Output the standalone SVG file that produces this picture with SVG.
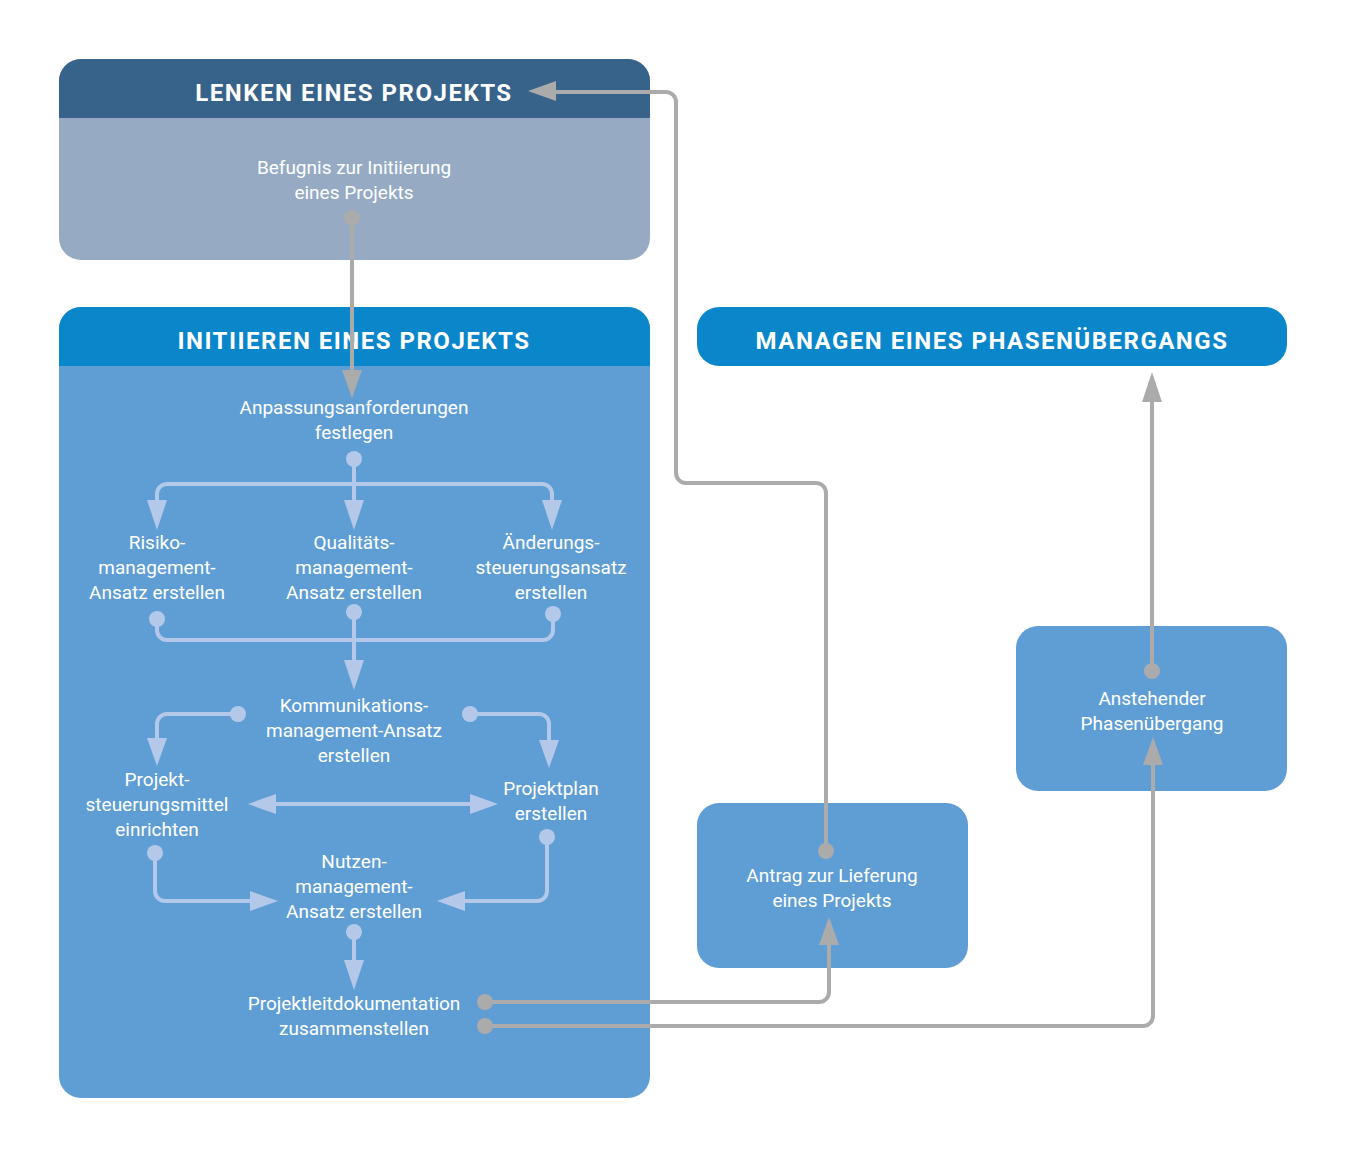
<svg xmlns="http://www.w3.org/2000/svg" width="1346" height="1159" viewBox="0 0 1346 1159">
<style>
.h{font-family:Roboto,"DejaVu Sans",sans-serif;font-weight:bold;font-size:24px;fill:#fff;text-anchor:middle;letter-spacing:1.5px}
.t{font-family:Roboto,"DejaVu Sans",sans-serif;font-size:19px;fill:#fff;text-anchor:middle}
.g{fill:none;stroke:#ababab;stroke-width:4;stroke-linejoin:round}
.l{fill:none;stroke:#b4c8ea;stroke-width:4;stroke-linejoin:round}
.gd{fill:#ababab}.ld{fill:#b4c8ea}
</style>
<rect width="1346" height="1159" fill="#fff"/>
<g id="lenken">
<rect x="59" y="59" width="591" height="201" rx="22" fill="#96aac4"/>
<path d="M59 118 V81 a22 22 0 0 1 22 -22 H628 a22 22 0 0 1 22 22 V118 Z" fill="#37638a"/>
<text class="h" x="354" y="101">LENKEN EINES PROJEKTS</text>
<text class="t" x="354" y="174">Befugnis zur Initiierung</text>
<text class="t" x="354" y="199">eines Projekts</text>
</g>
<g id="initiieren">
<rect x="59" y="307" width="591" height="791" rx="22" fill="#5f9ed4"/>
<path d="M59 366 V329 a22 22 0 0 1 22 -22 H628 a22 22 0 0 1 22 22 V366 Z" fill="#0a86cb"/>
<text class="h" x="354" y="349">INITIIEREN EINES PROJEKTS</text>
<text class="t" x="354" y="414">Anpassungsanforderungen</text>
<text class="t" x="354" y="439">festlegen</text>
<text class="t" x="157" y="549">Risiko-</text>
<text class="t" x="157" y="574">management-</text>
<text class="t" x="157" y="599">Ansatz erstellen</text>
<text class="t" x="354" y="549">Qualitäts-</text>
<text class="t" x="354" y="574">management-</text>
<text class="t" x="354" y="599">Ansatz erstellen</text>
<text class="t" x="551" y="549">Änderungs-</text>
<text class="t" x="551" y="574">steuerungsansatz</text>
<text class="t" x="551" y="599">erstellen</text>
<text class="t" x="354" y="712">Kommunikations-</text>
<text class="t" x="354" y="737">management-Ansatz</text>
<text class="t" x="354" y="762">erstellen</text>
<text class="t" x="157" y="786">Projekt-</text>
<text class="t" x="157" y="811">steuerungsmittel</text>
<text class="t" x="157" y="836">einrichten</text>
<text class="t" x="551" y="795">Projektplan</text>
<text class="t" x="551" y="820">erstellen</text>
<text class="t" x="354" y="868">Nutzen-</text>
<text class="t" x="354" y="893">management-</text>
<text class="t" x="354" y="918">Ansatz erstellen</text>
<text class="t" x="354" y="1010">Projektleitdokumentation</text>
<text class="t" x="354" y="1035">zusammenstellen</text>
</g>
<g id="managen">
<rect x="697" y="307" width="590" height="59" rx="22" fill="#0a86cb"/>
<text class="h" x="992" y="349">MANAGEN EINES PHASENÜBERGANGS</text>
</g>
<g id="antrag">
<rect x="697" y="803" width="271" height="165" rx="22" fill="#5f9ed4"/>
<text class="t" x="832" y="882">Antrag zur Lieferung</text>
<text class="t" x="832" y="907">eines Projekts</text>
</g>
<g id="anstehend">
<rect x="1016" y="626" width="271" height="165" rx="22" fill="#5f9ed4"/>
<text class="t" x="1152" y="705">Anstehender</text>
<text class="t" x="1152" y="730">Phasenübergang</text>
</g>
<g id="connectors">
<!-- gray -->
<path class="g" d="M352 218 V372"/><circle class="gd" cx="352" cy="218" r="8"/><path class="gd" d="M342 370 H362 L352 398 Z"/>
<path class="g" d="M826 851 V493 a10 10 0 0 0 -10 -10 H686 a10 10 0 0 1 -10 -10 V102 a10 10 0 0 0 -10 -10 H552"/><circle class="gd" cx="826" cy="851" r="8"/><path class="gd" d="M556 81 V101 L528 91 Z"/>
<path class="g" d="M1152 671 V400"/><circle class="gd" cx="1152" cy="671" r="8"/><path class="gd" d="M1142 402 H1162 L1152 372 Z"/>
<path class="g" d="M485 1002 H819 a10 10 0 0 0 10 -10 V943"/><circle class="gd" cx="485" cy="1002" r="8"/><path class="gd" d="M819 945 H839 L829 917 Z"/>
<path class="g" d="M485 1026 H1143 a10 10 0 0 0 10 -10 V763"/><circle class="gd" cx="485" cy="1026" r="8"/><path class="gd" d="M1143 765 H1163 L1153 737 Z"/>
<!-- light -->
<path class="l" d="M354 459 V502"/><circle class="ld" cx="354" cy="459" r="8"/><path class="ld" d="M344 500 H364 L354 530 Z"/>
<path class="l" d="M157 502 V494 a10 10 0 0 1 10 -10 H542 a10 10 0 0 1 10 10 V502"/>
<path class="ld" d="M147 500 H167 L157 530 Z"/><path class="ld" d="M542 500 H562 L552 530 Z"/>
<path class="l" d="M157 619 V630 a10 10 0 0 0 10 10 H543 a10 10 0 0 0 10 -10 V614 M354 612 V662"/>
<circle class="ld" cx="157" cy="619" r="8"/><circle class="ld" cx="354" cy="612" r="8"/><circle class="ld" cx="553" cy="614" r="8"/>
<path class="ld" d="M344 660 H364 L354 690 Z"/>
<path class="l" d="M238 714 H167 a10 10 0 0 0 -10 10 V740"/><circle class="ld" cx="238" cy="714" r="8"/><path class="ld" d="M147 738 H167 L157 766 Z"/>
<path class="l" d="M470 714 H539 a10 10 0 0 1 10 10 V742"/><circle class="ld" cx="470" cy="714" r="8"/><path class="ld" d="M539 740 H559 L549 768 Z"/>
<path class="l" d="M274 804 H472"/><path class="ld" d="M276 794 V814 L248 804 Z"/><path class="ld" d="M470 794 V814 L498 804 Z"/>
<path class="l" d="M155 853 V891 a10 10 0 0 0 10 10 H252"/><circle class="ld" cx="155" cy="853" r="8"/><path class="ld" d="M250 891 V911 L278 901 Z"/>
<path class="l" d="M547 837 V891 a10 10 0 0 1 -10 10 H463"/><circle class="ld" cx="547" cy="837" r="8"/><path class="ld" d="M465 891 V911 L437 901 Z"/>
<path class="l" d="M354 932 V962"/><circle class="ld" cx="354" cy="932" r="8"/><path class="ld" d="M344 960 H364 L354 990 Z"/>
</g>
</svg>
